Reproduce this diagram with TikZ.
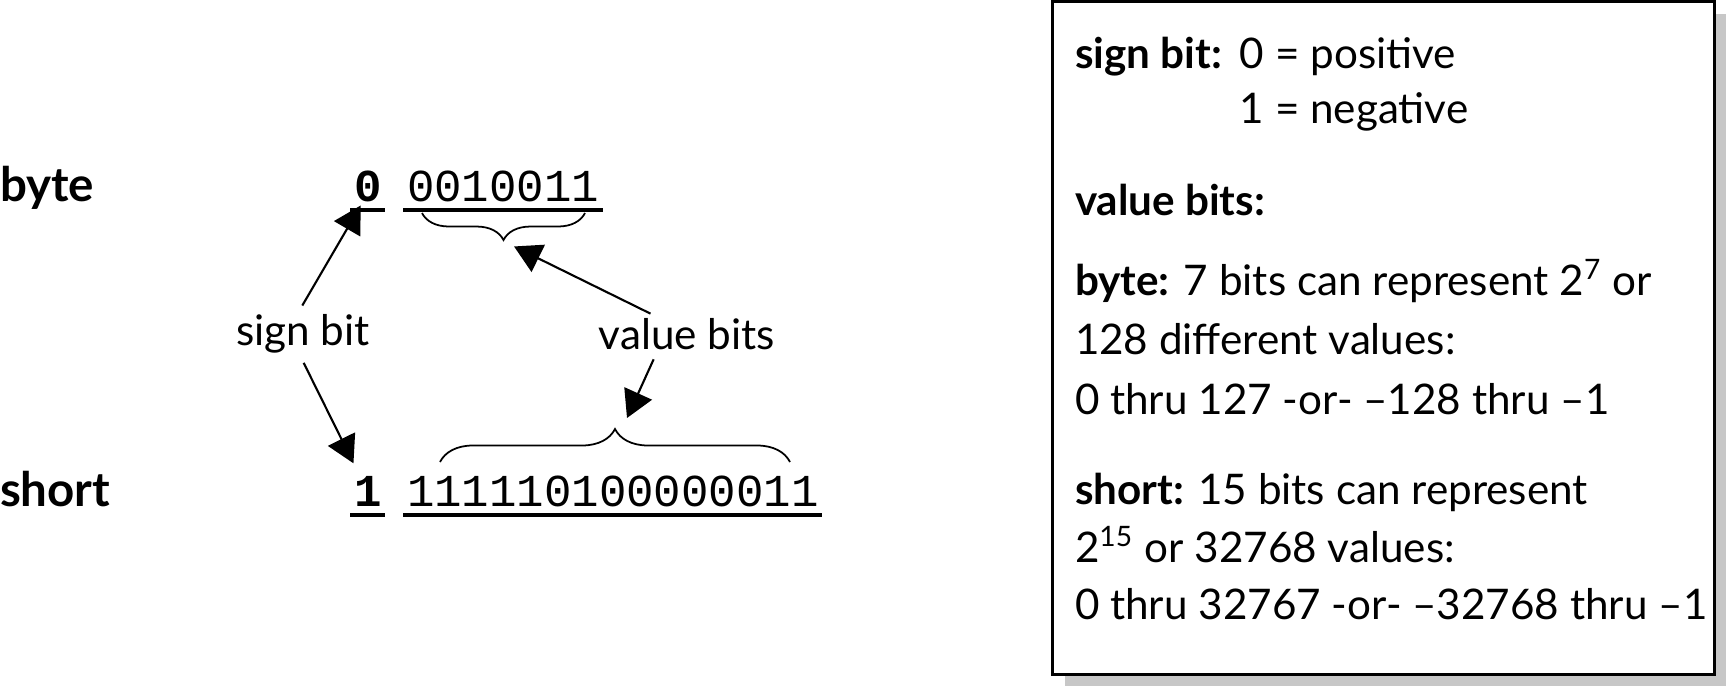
\documentclass[tikz,border=0pt]{standalone}
\usepackage{fontspec}
\setmainfont{Lato}
\setmonofont{Liberation Mono}
\usetikzlibrary{arrows.meta, positioning, decorations.pathreplacing, shadows}

\begin{document}
\begin{tikzpicture}[x=0.01cm, y=-0.01cm,
    every node/.style = {inner sep=0pt, outer sep=0pt},
    typelbl/.style = {font=\fontsize{13.5}{16}\selectfont\bfseries, anchor=base west},
    bits/.style = {font=\fontsize{13}{15}\selectfont\ttfamily, anchor=base west},
    note/.style = {font=\fontsize{12}{15}\selectfont},
    boxtxt/.style = {font=\fontsize{12}{15}\selectfont, anchor=base west},
    arr/.style = {-{Triangle[length=2.7mm, width=3mm]}, line width=0.6pt},
    brc/.style = {decorate, decoration={brace, amplitude=#1}, line width=0.5pt},
    uline/.style = {line width=1.3pt}
    ]
    \useasboundingbox (0,0) rectangle (1726,687);

    \node[typelbl] (byte) at (0,201) {byte};
    \node[typelbl] (short) at (0,506) {short};

    \node[bits, font=\fontsize{13}{15}\selectfont\ttfamily\bfseries] (b0) at (354,201) {0};
    \node[bits] (bv) at (407,201) {0010011};
    \node[bits, font=\fontsize{13}{15}\selectfont\ttfamily\bfseries] (s0) at (354,506) {1};
    \node[bits] (sv) at (407,506) {111110100000011};

    \draw[uline] ([shift={(-1pt,-2.5pt)}]b0.base west) -- ([shift={(1pt,-2.5pt)}]b0.base east);
    \draw[uline] ([shift={(-1pt,-2.5pt)}]bv.base west) -- ([shift={(1pt,-2.5pt)}]bv.base east);
    \draw[uline] ([shift={(-1pt,-2.5pt)}]s0.base west) -- ([shift={(1pt,-2.5pt)}]s0.base east);
    \draw[uline] ([shift={(-1pt,-2.5pt)}]sv.base west) -- ([shift={(1pt,-2.5pt)}]sv.base east);

    \draw[brc=0.27cm] (585,213) -- (422,213);
    \draw[brc=0.33cm] (440,462) -- (790,462);
    \coordinate (btip) at (503,241);
    \coordinate (stip) at (614,430);

    \node[note] (sb) at (303,334) {sign bit};
    \node[note] (vb) at (687,334) {value bits};

    \draw[arr, shorten <=3pt] ([xshift=-0.06cm]sb.north) -- ([shift={(-0.07cm,-0.04cm)}]b0.south);
    \draw[arr, shorten <=3pt, shorten >=4pt] ([xshift=-0.04cm]sb.south) -- ([xshift=-0.08cm]s0.north);
    \draw[arr, shorten <=3pt, shorten >=3.5pt] ([xshift=-0.27cm]vb.north) -- (btip);
    \draw[arr, shorten <=3pt] ([xshift=-0.29cm]vb.south) -- ([shift={(0.13cm,0.12cm)}]stip);

    \node[draw, line width=0.9pt, fill=white, minimum width=6.61cm, minimum height=6.72cm,
          drop shadow={shadow xshift=0.12cm, shadow yshift=-0.12cm, fill=black!22, opacity=1}]
          (box) at (1383.5,338) {};

    \node[boxtxt] (l1) at (1075,68) {\textbf{sign bit:}};
    \node[boxtxt] (l1b) at ([xshift=0.18cm]l1.base east) {0 = positive};
    \node[boxtxt] (l2) at ([yshift=-0.55cm]l1b.base west) {1 = negative};
    \node[boxtxt] (l3) at (1075,215) {\textbf{value bits:}};
    \node[boxtxt] (l4) at (1075,295) {\textbf{byte:} 7 bits can represent 2\textsuperscript{7} or};
    \node[boxtxt] (l5) at (1075,354) {128 different values:};
    \node[boxtxt] (l6) at (1075,414) {0 thru 127 -or- \textendash128 thru \textendash1};
    \node[boxtxt] (l7) at (1075,504) {\textbf{short:} 15 bits can represent};
    \node[boxtxt] (l8) at (1075,562) {2\textsuperscript{15} or 32768 values:};
    \node[boxtxt] (l9) at (1075,619) {0 thru 32767 -or- \textendash32768 thru \textendash1};
\end{tikzpicture}
\end{document}
